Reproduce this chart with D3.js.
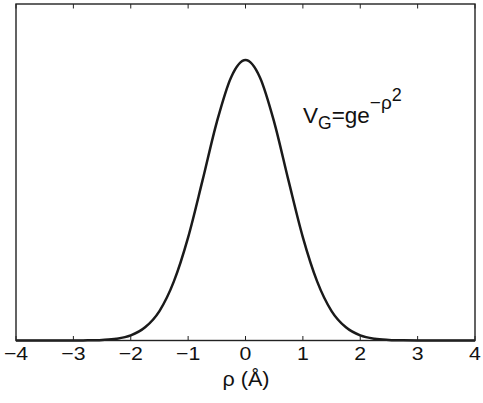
<!DOCTYPE html>
<html><head><meta charset="utf-8">
<script src="https://cdn.jsdelivr.net/npm/d3@7"></script>
<style>body{margin:0;background:#fff}svg{display:block}text{font-family:"Liberation Sans",Arial,Helvetica,sans-serif;fill:#111}</style>
</head><body>
<svg id="c" width="483" height="403"></svg>
<script>
// Values
const rho = [-4,-3.75,-3.5,-3.25,-3,-2.75,-2.5,-2.25,-2,-1.75,-1.5,-1.25,-1,-0.75,-0.5,-0.25,0,0.25,0.5,0.75,1,1.25,1.5,1.75,2,2.25,2.5,2.75,3,3.25,3.5,3.75,4];
const vg  = [0,0,0,0,0.0001,0.0005,0.002,0.006,0.018,0.047,0.105,0.21,0.368,0.57,0.779,0.939,1,0.939,0.779,0.57,0.368,0.21,0.105,0.047,0.018,0.006,0.002,0.0005,0.0001,0,0,0,0];
const xTicks = [-4,-3,-2,-1,0,1,2,3,4];
const xTickLabels = ["\u22124","\u22123","\u22122","\u22121","0","1","2","3","4"];

const svg = d3.select("#c");
const L=16, R=475, T=4, B=340.5;
const x = d3.scaleLinear().domain([-4,4]).range([L,R]);
const y = d3.scaleLinear().domain([0,1.2]).range([B,T]);

// curve
const pts = rho.map((r,i)=>[r,vg[i]]);
svg.append("path").datum(pts)
  .attr("d", d3.line().x(d=>x(d[0])).y(d=>y(d[1])).curve(d3.curveMonotoneX))
  .attr("fill","none").attr("stroke","#1a1a1a").attr("stroke-width",2.5);

// ticks bottom and top (inward)
const tickLen = 4.5;
svg.append("g").selectAll("line").data(xTicks).join("line")
  .attr("x1",d=>x(d)).attr("x2",d=>x(d)).attr("y1",B).attr("y2",B-tickLen)
  .attr("stroke","#222").attr("stroke-width",1);
svg.append("g").selectAll("line").data(xTicks).join("line")
  .attr("x1",d=>x(d)).attr("x2",d=>x(d)).attr("y1",T).attr("y2",T+tickLen)
  .attr("stroke","#222").attr("stroke-width",1);

// frame
svg.append("rect").attr("x",L).attr("y",T).attr("width",R-L).attr("height",B-T)
  .attr("fill","none").attr("stroke","#222").attr("stroke-width",1.4);

// tick labels
svg.append("g").selectAll("text").data(xTicks).join("text")
  .attr("transform",d=>`translate(${x(d)},360) scale(1.12,1)`)
  .attr("text-anchor","middle")
  .attr("font-size",19).text((d,i)=>xTickLabels[i]);

// axis title
svg.append("text").attr("transform","translate(246,386) scale(1.08,1)").attr("text-anchor","middle")
  .attr("font-size",20).text("\u03C1 (\u00C5)");

// annotation
const ann = svg.append("text").attr("x",303).attr("y",123).attr("font-size",22.5);
ann.append("tspan").text("V");
ann.append("tspan").attr("font-size",17.5).attr("dy",6).text("G");
ann.append("tspan").attr("dy",-6).text("=ge");
ann.append("tspan").attr("font-size",19).attr("dy",-14).text("\u2212\u03C1");
ann.append("tspan").attr("font-size",18).attr("dy",-8).text("2");
</script>
</body></html>
